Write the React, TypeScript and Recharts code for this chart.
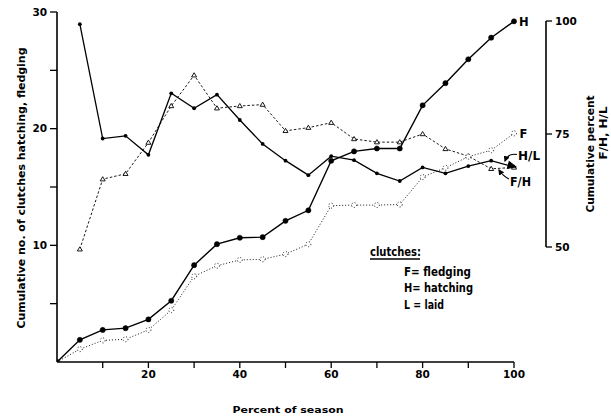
import React from 'react';
import { LineChart, Line, XAxis, YAxis, ReferenceLine } from 'recharts';

const percentOfSeason = [0, 5, 10, 15, 20, 25, 30, 35, 40, 45, 50, 55, 60, 65, 70, 75, 80, 85, 90, 95, 100];
const hatching = [0, 1.9, 2.75, 2.9, 3.65, 5.25, 8.3, 10.1, 10.65, 10.7, 12.1, 13.0, 17.25, 18.05, 18.3, 18.3, 22.0, 23.9, 25.95, 27.8, 29.2];
const fledging = [0, 1.1, 1.85, 1.95, 2.75, 4.45, 7.35, 8.25, 8.75, 8.8, 9.25, 10.1, 13.4, 13.45, 13.45, 13.5, 15.85, 16.65, 17.6, 18.15, 19.6];
const hatchedPerLaid = [null, 99.3, 74.0, 74.6, 70.4, 84.0, 80.7, 83.7, 78.1, 72.8, 69.1, 65.9, 70.1, 69.2, 66.3, 64.6, 67.6, 66.3, 67.9, 69.1, 67.7];
const fledgedPerHatched = [null, 49.5, 65.0, 66.2, 73.1, 81.2, 88.0, 80.7, 81.2, 81.5, 75.7, 76.4, 77.5, 73.9, 73.2, 73.2, 75.0, 71.7, 70.1, 67.3, 67.6];

const xTicks = [10, 20, 30, 40, 50, 60, 70, 80, 90, 100];
const leftTicks = [5, 10, 15, 20, 25, 30];
const rightTicks = [50, 75, 100];

const data = percentOfSeason.map((x, i) => ({
  x,
  H: hatching[i],
  F: fledging[i],
  HL: hatchedPerLaid[i],
  FH: fledgedPerHatched[i],
}));

const FONT = '"DejaVu Sans", "Liberation Sans", Arial, sans-serif';
const tickStyle = { fontFamily: FONT, fontWeight: 'bold' as const, fontSize: 10.5, fill: '#000' };

const hlDot = (props: any) => {
  const { cx, cy, index, value } = props;
  if (cx == null || cy == null || value == null) return <g key={`hl-${index}`} />;
  if (index === percentOfSeason.length - 1) {
    return (
      <path
        key={`hl-${index}`}
        d="M 0 0 L -8 -3.5 L -8 3.5 Z"
        transform={`translate(${cx + 2},${cy}) rotate(15)`}
        fill="#000"
        stroke="#000"
      />
    );
  }
  return <circle key={`hl-${index}`} cx={cx} cy={cy} r={1.9} fill="#000" stroke="none" />;
};

const fhDot = (props: any) => {
  const { cx, cy, index, value } = props;
  if (cx == null || cy == null || value == null) return <g key={`fh-${index}`} />;
  return (
    <path
      key={`fh-${index}`}
      d={`M ${cx} ${cy - 2.5} L ${cx + 2.5} ${cy + 1.7} L ${cx - 2.5} ${cy + 1.7} Z`}
      fill="#fff"
      stroke="#000"
      strokeWidth={0.9}
    />
  );
};

export default function App() {
  return (
    <div style={{ position: 'absolute', left: 0, top: 0, width: 611, height: 417, background: '#fff' }}>
      <LineChart width={611} height={417} data={data} margin={{ top: 12, right: 0, bottom: 0, left: 0 }}>
        <XAxis
          dataKey="x"
          type="number"
          domain={[0, 107]}
          ticks={xTicks}
          allowDataOverflow
          axisLine={false}
          tickLine={{ stroke: '#000', strokeWidth: 1.3 }}
          tickSize={6}
          tickMargin={3}
          height={55}
          tick={tickStyle}
          tickFormatter={(v: number) => (v % 20 === 0 ? String(v) : '')}
        />
        <YAxis
          yAxisId="left"
          domain={[0, 30]}
          ticks={leftTicks}
          allowDataOverflow
          width={57}
          tickSize={7}
          tickMargin={3}
          axisLine={{ stroke: '#000', strokeWidth: 1.6 }}
          tickLine={{ stroke: '#000', strokeWidth: 1.3 }}
          tick={tickStyle}
          tickFormatter={(v: number) => (v % 10 === 0 ? String(v) : '')}
        />
        <YAxis
          yAxisId="right"
          orientation="right"
          domain={[24.56, 101.99]}
          ticks={rightTicks}
          allowDataOverflow
          width={65}
          tickSize={6}
          tickMargin={3}
          axisLine={false}
          tickLine={{ stroke: '#000', strokeWidth: 1.3 }}
          tick={tickStyle}
        />
        <ReferenceLine
          yAxisId="left"
          segment={[{ x: 0, y: 0 }, { x: 100, y: 0 }]}
          stroke="#000"
          strokeWidth={1.6}
          ifOverflow="visible"
        />
        <ReferenceLine
          yAxisId="right"
          segment={[{ x: 107, y: 50 }, { x: 107, y: 100 }]}
          stroke="#000"
          strokeWidth={1.6}
          ifOverflow="visible"
        />
        <Line
          yAxisId="right"
          dataKey="FH"
          stroke="#000"
          strokeWidth={0.9}
          strokeDasharray="2.5 2"
          dot={fhDot}
          isAnimationActive={false}
        />
        <Line
          yAxisId="right"
          dataKey="HL"
          stroke="#000"
          strokeWidth={1.3}
          dot={hlDot}
          isAnimationActive={false}
        />
        <Line
          yAxisId="left"
          dataKey="F"
          stroke="#000"
          strokeWidth={0.9}
          strokeDasharray="1 2"
          dot={{ r: 2.5, fill: '#fff', stroke: '#000', strokeWidth: 0.9 }}
          isAnimationActive={false}
        />
        <Line
          yAxisId="left"
          dataKey="H"
          stroke="#000"
          strokeWidth={1.4}
          dot={{ r: 2.6, fill: '#000', stroke: '#000', strokeWidth: 0.5 }}
          isAnimationActive={false}
        />
      </LineChart>
      <svg
        width={611}
        height={417}
        style={{ position: 'absolute', left: 0, top: 0, pointerEvents: 'none' }}
        fontFamily={FONT}
        fontWeight="bold"
      >
        <defs>
          <marker id="ah" viewBox="0 0 10 10" refX="8" refY="5" markerWidth="5" markerHeight="5" orient="auto">
            <path d="M 0 0 L 10 5 L 0 10 Z" fill="#000" />
          </marker>
        </defs>
        <text x={25} y={188} transform="rotate(-90 25 188)" textAnchor="middle" fontSize={11} textLength={281} lengthAdjust="spacingAndGlyphs">
          Cumulative no. of clutches hatching, fledging
        </text>
        <text x={594} y={154} transform="rotate(-90 594 154)" textAnchor="middle" fontSize={11} textLength={117} lengthAdjust="spacingAndGlyphs">
          Cumulative percent
        </text>
        <text x={607} y={133} transform="rotate(-90 607 133)" textAnchor="middle" fontSize={11} textLength={53} lengthAdjust="spacingAndGlyphs">
          F/H, H/L
        </text>
        <text x={288} y={413} textAnchor="middle" fontSize={9.5} textLength={111} lengthAdjust="spacingAndGlyphs">
          Percent of season
        </text>
        <text x={370} y={256} fontSize={11.5} textLength={51} lengthAdjust="spacingAndGlyphs">clutches:</text>
        <line x1={370} y1={259} x2={420} y2={259} stroke="#000" strokeWidth={1.3} />
        <text x={404} y={276} fontSize={11.5} textLength={67} lengthAdjust="spacingAndGlyphs">F= fledging</text>
        <text x={404} y={292} fontSize={11.5} textLength={69} lengthAdjust="spacingAndGlyphs">H= hatching</text>
        <text x={404} y={308.5} fontSize={11.5} textLength={40} lengthAdjust="spacingAndGlyphs">L = laid</text>
        <text x={519} y={25.5} fontSize={11.5}>H</text>
        <text x={519.5} y={138} fontSize={11.5}>F</text>
        <text x={518} y={160} fontSize={11.5} textLength={22} lengthAdjust="spacingAndGlyphs">H/L</text>
        <text x={510} y={185.5} fontSize={11.5} textLength={21} lengthAdjust="spacingAndGlyphs">F/H</text>
        <path d="M 517 154.5 Q 508 153 505 161" fill="none" stroke="#000" strokeWidth={1.2} markerEnd="url(#ah)" />
        <path d="M 509 179 Q 503 176 499 170" fill="none" stroke="#000" strokeWidth={1.2} markerEnd="url(#ah)" />
      </svg>
    </div>
  );
}
